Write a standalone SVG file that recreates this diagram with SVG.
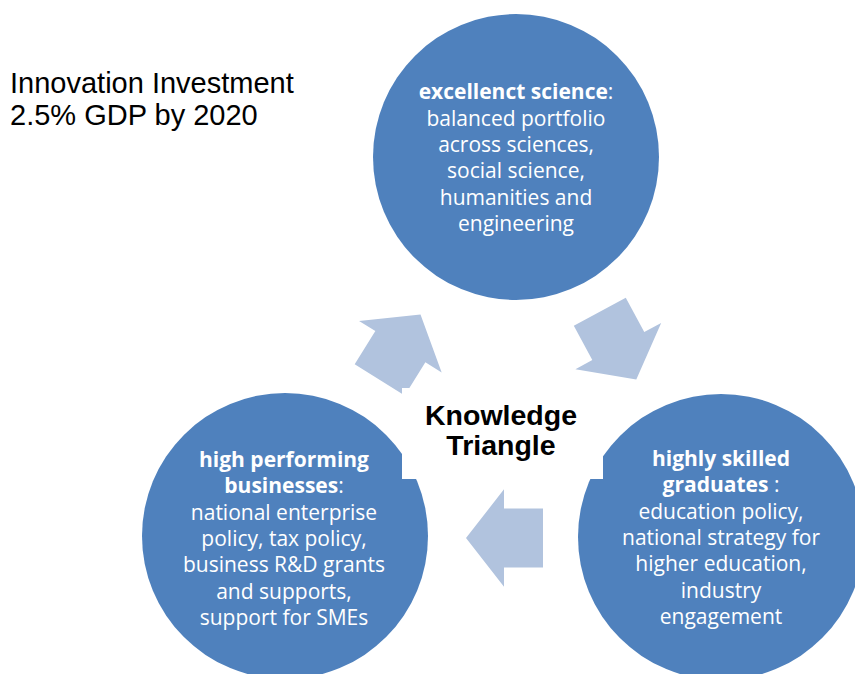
<svg xmlns="http://www.w3.org/2000/svg" width="855" height="674" viewBox="0 0 855 674">
  <style>
    .circle { fill: #4F81BD; }
    .ctext { font-family: "Open Sans", "Noto Sans", sans-serif; font-size: 21px; fill: #FFFFFF; text-anchor: middle; }
    .b { font-weight: bold; }
    .arrow { fill: #B1C3DE; }
    .title { font-family: "Liberation Sans", Arial, sans-serif; font-size: 29px; fill: #000000; }
    .kt { font-family: "Liberation Sans", Arial, sans-serif; font-size: 28.5px; font-weight: bold; fill: #000000; text-anchor: middle; }
  </style>
  <defs>
    <polygon id="blockArrow" points="0,0 -38,-48.7 -38,-29.5 -77,-29.5 -77,29.5 -38,29.5 -38,48.7"/>
  </defs>
  <rect width="855" height="674" fill="#FFFFFF"/>

  <g id="node-science">
    <circle class="circle" cx="516" cy="157" r="143"/>
  </g>
  <g id="node-businesses">
    <circle class="circle" cx="285" cy="536" r="143"/>
  </g>
  <g id="node-graduates">
    <circle class="circle" cx="721" cy="537" r="143"/>
  </g>

  <g id="connectors">
    <use href="#blockArrow" class="arrow" transform="translate(420.5,314.5) rotate(-58)"/>
    <use href="#blockArrow" class="arrow" transform="translate(636.3,379.5) rotate(61.7)"/>
    <use href="#blockArrow" class="arrow" transform="translate(466,538) rotate(180)"/>
  </g>

  <g id="node-knowledge-triangle">
    <rect x="402" y="388" width="201" height="91" fill="#FFFFFF"/>
    <text class="kt" x="501" y="425">Knowledge</text>
    <text class="kt" x="501" y="455">Triangle</text>
  </g>

  <g id="label-investment">
    <text class="title" x="10" y="93">Innovation Investment</text>
    <text class="title" x="10" y="125">2.5% GDP by 2020</text>
  </g>

  <g id="text-science">
    <text class="ctext" x="516" y="99"><tspan class="b">excellenct science</tspan>:</text>
    <text class="ctext" x="516" y="125.5">balanced portfolio</text>
    <text class="ctext" x="516" y="152">across sciences,</text>
    <text class="ctext" x="516" y="178">social science,</text>
    <text class="ctext" x="516" y="204.5">humanities and</text>
    <text class="ctext" x="516" y="231">engineering</text>
  </g>

  <g id="text-businesses">
    <text class="ctext b" x="284" y="467">high performing</text>
    <text class="ctext" x="284" y="493.3"><tspan class="b">businesses</tspan>:</text>
    <text class="ctext" x="284" y="519.6">national enterprise</text>
    <text class="ctext" x="284" y="545.9">policy, tax policy,</text>
    <text class="ctext" x="284" y="572.2">business R&amp;D grants</text>
    <text class="ctext" x="284" y="598.5">and supports,</text>
    <text class="ctext" x="284" y="624.8">support for SMEs</text>
  </g>

  <g id="text-graduates">
    <text class="ctext b" x="721" y="466">highly skilled</text>
    <text class="ctext" x="721" y="492.3"><tspan class="b">graduates</tspan> :</text>
    <text class="ctext" x="721" y="518.6">education policy,</text>
    <text class="ctext" x="721" y="544.9">national strategy for</text>
    <text class="ctext" x="721" y="571.2">higher education,</text>
    <text class="ctext" x="721" y="597.5">industry</text>
    <text class="ctext" x="721" y="623.8">engagement</text>
  </g>
</svg>
